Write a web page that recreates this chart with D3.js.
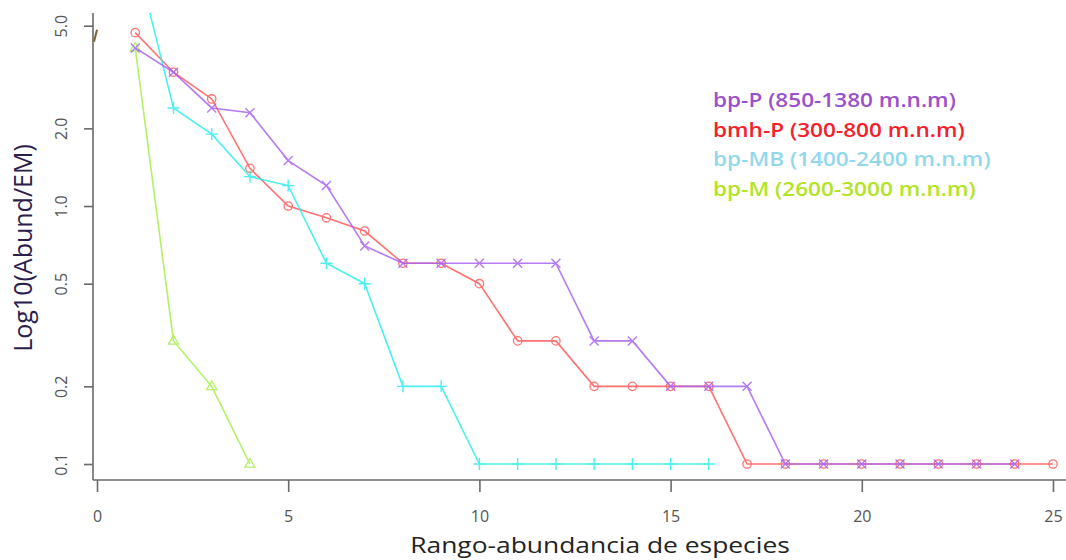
<!DOCTYPE html>
<html>
<head>
<meta charset="utf-8">
<script src="https://cdn.jsdelivr.net/npm/d3@7"></script>
<style>
  html, body { margin: 0; padding: 0; background: #fff; }
  svg { display: block; }
</style>
</head>
<body>
<svg id="chart" width="1066" height="560"></svg>
<script>
// Rank-abundance per elevation zone (Abund/EM, plotted on a log axis)
const rankBpP   = [1, 2, 3, 4, 5, 6, 7, 8, 9, 10, 11, 12, 13, 14, 15, 16, 17, 18, 19, 20, 21, 22, 23, 24];
const valuesBpP = [4.1, 3.3, 2.4, 2.3, 1.5, 1.2, 0.7, 0.6, 0.6, 0.6, 0.6, 0.6, 0.3, 0.3, 0.2, 0.2, 0.2, 0.1, 0.1, 0.1, 0.1, 0.1, 0.1, 0.1];

const rankBmhP   = [1, 2, 3, 4, 5, 6, 7, 8, 9, 10, 11, 12, 13, 14, 15, 16, 17, 18, 19, 20, 21, 22, 23, 24, 25];
const valuesBmhP = [4.7, 3.3, 2.6, 1.4, 1.0, 0.9, 0.8, 0.6, 0.6, 0.5, 0.3, 0.3, 0.2, 0.2, 0.2, 0.2, 0.1, 0.1, 0.1, 0.1, 0.1, 0.1, 0.1, 0.1, 0.1];

const rankBpMB   = [1, 2, 3, 4, 5, 6, 7, 8, 9, 10, 11, 12, 13, 14, 15, 16];
const valuesBpMB = [9.5, 2.4, 1.9, 1.3, 1.2, 0.6, 0.5, 0.2, 0.2, 0.1, 0.1, 0.1, 0.1, 0.1, 0.1, 0.1];

const rankBpM   = [1, 2, 3, 4];
const valuesBpM = [4.1, 0.3, 0.2, 0.1];

const xTicks = [0, 5, 10, 15, 20, 25];
const yTicks = [0.1, 0.2, 0.5, 1.0, 2.0, 5.0];

const legendLabels = [
  "bp-P (850-1380 m.n.m)",
  "bmh-P (300-800 m.n.m)",
  "bp-MB (1400-2400 m.n.m)",
  "bp-M (2600-3000 m.n.m)"
];

const series = [
  { rank: rankBmhP, values: valuesBmhP, color: "#ff5a5a", marker: "circle" },
  { rank: rankBpMB, values: valuesBpMB, color: "#2eeeee", marker: "plus" },
  { rank: rankBpM,  values: valuesBpM,  color: "#a6f04a", marker: "triangle" },
  { rank: rankBpP,  values: valuesBpP,  color: "#a864f2", marker: "cross" }
];
const legendColors = ["#9c50cc", "#f5202a", "#92d8ec", "#b2e424"];

const svg = d3.select("#chart");

const x = d3.scaleLinear().domain([0, 25]).range([97, 1053]);
const y = d3.scaleLog().domain([0.1, 5]).range([464, 25.7]);

const plotLeft = 93, plotTop = 13, plotBottom = 480, plotRight = 1066;

svg.append("defs").append("clipPath").attr("id", "plotClip")
  .append("rect")
  .attr("x", plotLeft).attr("y", plotTop)
  .attr("width", plotRight - plotLeft).attr("height", plotBottom - plotTop);

// Axes (R-like: L-shaped frame, outward ticks)
const axisColor = "#6a6a6a";
const tickLabelColor = "#555";

const xAxis = d3.axisBottom(x).tickValues(xTicks).tickSize(12).tickFormat(d3.format("d"));
const gx = svg.append("g").attr("transform", `translate(0,${plotBottom})`).call(xAxis);
gx.select(".domain").remove();
gx.selectAll(".tick line").attr("stroke", axisColor).attr("stroke-width", 1.6);
gx.selectAll(".tick text")
  .attr("y", 36)
  .attr("dy", "0.35em")
  .attr("fill", tickLabelColor)
  .style("font-family", "'Open Sans', sans-serif")
  .style("font-size", "16px");

svg.append("line")
  .attr("x1", plotLeft).attr("x2", plotRight)
  .attr("y1", plotBottom).attr("y2", plotBottom)
  .attr("stroke", axisColor).attr("stroke-width", 1.6);

const yAxis = d3.axisLeft(y).tickValues(yTicks).tickSize(9).tickFormat(d3.format(".1f"));
const gy = svg.append("g").attr("transform", `translate(${plotLeft},0)`).call(yAxis);
gy.select(".domain").remove();
gy.selectAll(".tick line").attr("stroke", axisColor).attr("stroke-width", 1.6);
gy.selectAll(".tick text")
  .attr("x", 0).attr("dy", "0.35em")
  .attr("text-anchor", "middle")
  .attr("transform", "translate(-32,0) rotate(-90)")
  .attr("fill", tickLabelColor)
  .style("font-family", "'Open Sans', sans-serif")
  .style("font-size", "16px");

svg.append("line")
  .attr("x1", plotLeft).attr("x2", plotLeft)
  .attr("y1", plotTop).attr("y2", plotBottom)
  .attr("stroke", axisColor).attr("stroke-width", 1.6);

// small break mark on the upper part of the y axis
svg.append("path")
  .attr("d", `M${plotLeft + 1},${y(5) + 16} L${plotLeft + 4},${y(5) + 4}`)
  .attr("stroke", "#7a6440").attr("stroke-width", 2).attr("fill", "none");

// Axis titles
svg.append("text")
  .attr("transform", "translate(600,553) scale(1.2,1)")
  .attr("text-anchor", "middle")
  .attr("fill", "#232323")
  .style("font-family", "'Open Sans', sans-serif")
  .style("font-size", "22px")
  .text("Rango-abundancia de especies");

svg.append("text")
  .attr("transform", "translate(32,248) rotate(-90)")
  .attr("text-anchor", "middle")
  .attr("fill", "#2c1d4c")
  .style("font-family", "'Open Sans', sans-serif")
  .style("font-size", "25px")
  .text("Log10(Abund/EM)");

// Series lines and point markers
const plot = svg.append("g").attr("clip-path", "url(#plotClip)");

const line = d3.line()
  .x(d => x(d[0]))
  .y(d => y(d[1]));

function drawMarker(g, marker, color) {
  if (marker === "circle") {
    g.append("circle").attr("r", 4.2).attr("fill", "none").attr("stroke", color).attr("stroke-width", 1.3);
  } else if (marker === "plus") {
    g.append("path").attr("d", "M-6,0H6M0,-6V6").attr("stroke", color).attr("stroke-width", 1.4);
  } else if (marker === "cross") {
    g.append("path").attr("d", "M-4.5,-4.5L4.5,4.5M-4.5,4.5L4.5,-4.5").attr("stroke", color).attr("stroke-width", 1.4);
  } else if (marker === "triangle") {
    g.append("path").attr("d", "M0,-5.5L5,3.2L-5,3.2Z").attr("fill", "none").attr("stroke", color).attr("stroke-width", 1.3);
  }
}

series.forEach(s => {
  const pts = s.rank.map((r, i) => [r, s.values[i]]);
  const g = plot.append("g").attr("opacity", 0.85);
  g.append("path")
    .datum(pts)
    .attr("d", line)
    .attr("fill", "none")
    .attr("stroke", s.color)
    .attr("stroke-width", 1.6);
  pts.forEach(p => {
    const m = g.append("g").attr("transform", `translate(${x(p[0])},${y(p[1])})`);
    drawMarker(m, s.marker, s.color);
  });
});

// Legend
const legend = svg.append("g");
legendLabels.forEach((lbl, i) => {
  legend.append("text")
    .attr("transform", `translate(713,${107 + i * 29.5}) scale(1.13,1)`)
    .attr("fill", legendColors[i])
    .style("font-family", "'Open Sans', sans-serif")
    .style("font-weight", "600")
    .style("font-size", "20px")
    .text(lbl);
});
</script>
</body>
</html>
